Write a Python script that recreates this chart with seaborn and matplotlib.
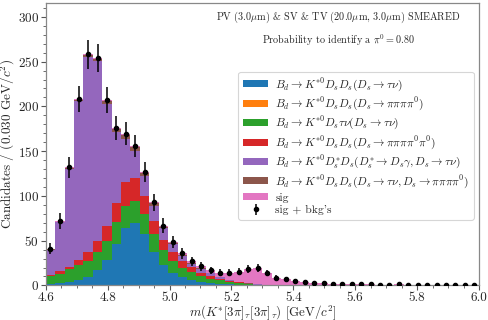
import numpy as np
import pandas as pd
import matplotlib
matplotlib.use("Agg")
import matplotlib.pyplot as plt
import seaborn as sns
from matplotlib.patches import Patch

# ---- data ----
n_bins = 46
x_range = (4.6, 6.0)
edges = np.linspace(x_range[0], x_range[1], n_bins + 1)
centers = 0.5 * (edges[:-1] + edges[1:])

bkg_dsds_taunu = [1.9, 2.6, 3.7, 5.6, 9.3, 17.5, 28, 46.6, 64.5, 69.7, 57, 37, 22.4, 13.8, 9, 6,
                  4, 2.6, 1.9, 1.1, 0.7, 0.4, 0.2, 0.1, 0.1, 0.1, 0, 0, 0, 0, 0, 0, 0, 0, 0, 0,
                  0, 0, 0, 0, 0, 0, 0, 0, 0, 0]
bkg_dsds_4pi = [0, 0, 0, 0, 0.1, 0.2, 0.2, 0.2, 0.2, 0.2, 0.2, 0.2, 0.1, 0.1, 0, 0,
                0, 0, 0, 0, 0, 0, 0, 0, 0, 0, 0, 0, 0, 0, 0, 0, 0, 0, 0, 0,
                0, 0, 0, 0, 0, 0, 0, 0, 0, 0]
bkg_dstaunu = [8.1, 10.4, 14.2, 16.8, 17.7, 19.5, 22, 24.4, 24.2, 24.3, 22.4, 20.4, 17.6, 13.2, 10.8, 9,
               6.5, 4.9, 3.7, 2.6, 1.9, 1.1, 0.6, 0.3, 0.1, 0.1, 0, 0, 0, 0, 0, 0, 0, 0, 0, 0,
               0, 0, 0, 0, 0, 0, 0, 0, 0, 0]
bkg_dsds_5pi = [2, 2.6, 3.1, 5.6, 10, 13, 16, 20.4, 27, 26, 20.1, 14.6, 11, 10, 7.2, 5.5,
                3.5, 2.5, 1.9, 1.1, 0.7, 0.4, 0.2, 0.1, 0.1, 0, 0, 0, 0, 0, 0, 0, 0, 0, 0, 0,
                0, 0, 0, 0, 0, 0, 0, 0, 0, 0]
bkg_dsstar = [28, 55, 109, 177.5, 218, 201, 137, 80, 48, 30, 23, 16, 12.6, 8.7, 6.3, 3.8,
              4.5, 3.7, 1.4, 1.1, 0.5, 0.1, 0.4, 0.1, 0.2, 0.2, 0.2, 0.2, 0.2, 0.2, 0.2, 0.2,
              0.2, 0.1, 0.1, 0.1, 0.1, 0.1, 0.1, 0.1, 0.1, 0.1, 0.1, 0.1, 0.1, 0.1]
bkg_mixed = [0.5, 0.8, 1, 1.5, 2, 2, 2.6, 3.5, 4.5, 4.5, 3.4, 3.5, 2, 1.5, 1.2, 1,
             0.8, 0.6, 0.5, 0.4, 0.3, 0.2, 0.1, 0.1, 0, 0, 0, 0, 0, 0, 0, 0, 0, 0, 0, 0,
             0, 0, 0, 0, 0, 0, 0, 0, 0, 0]
sig = [0.5, 0.6, 0.8, 1, 1, 1, 1, 1, 1, 1, 1, 1, 1.2, 1.3, 1.5, 1.5,
       2, 2.5, 4.8, 7.9, 11.2, 16.1, 17.9, 13.1, 8.2, 6.3, 5.2, 3.4, 2.7, 2.3, 1.7, 1.6,
       1.4, 1.1, 1.0, 0.8, 0.8, 1.0, 0.7, 0.5, 0.5, 0.3, 0.3, 0.2, 0.3, 0.2]

labels = [
    r"$B_d \rightarrow K^{*0} D_s D_s (D_s \rightarrow \tau\nu)$",
    r"$B_d \rightarrow K^{*0} D_s D_s (D_s \rightarrow \pi\pi\pi\pi^0)$",
    r"$B_d \rightarrow K^{*0} D_s \tau\nu (D_s \rightarrow \tau\nu)$",
    r"$B_d \rightarrow K^{*0} D_s D_s (D_s \rightarrow \pi\pi\pi\pi^0\pi^0)$",
    r"$B_d \rightarrow K^{*0} D_s^{*} D_s (D_s^{*} \rightarrow D_s\gamma, D_s \rightarrow \tau\nu)$",
    r"$B_d \rightarrow K^{*0} D_s D_s (D_s \rightarrow \tau\nu, D_s \rightarrow \pi\pi\pi\pi^0)$",
    "sig",
]
data_label = "sig + bkg's"
colors = ["#1f77b4", "#ff7f0e", "#2ca02c", "#d62728", "#9467bd", "#8c564b", "#e377c2"]
series = [bkg_dsds_taunu, bkg_dsds_4pi, bkg_dstaunu, bkg_dsds_5pi, bkg_dsstar, bkg_mixed, sig]

# ---- style ----
sns.set_style("ticks")
plt.rcParams.update({
    "font.family": "serif",
    "font.serif": ["cmr10", "DejaVu Serif"],
    "mathtext.fontset": "cm",
    "axes.formatter.use_mathtext": True,
    "axes.unicode_minus": False,
})

fig = plt.figure(figsize=(4.89, 3.2), dpi=100)
ax = fig.add_axes([0.0935, 0.108, 0.886, 0.884])

rows = []
for lab, vals in zip(labels, series):
    for c, v in zip(centers, vals):
        rows.append({"x": float(c), "w": float(v), "comp": lab})
df = pd.DataFrame(rows)

palette = dict(zip(labels, colors))
sns.histplot(data=df, x="x", weights="w", hue="comp", hue_order=labels[::-1],
             bins=n_bins, binrange=x_range, multiple="stack", element="step", fill=True,
             palette=palette, alpha=1.0, linewidth=0, legend=False, ax=ax)

total = np.sum(np.array(series), axis=0)
err = np.sqrt(total)
eb = ax.errorbar(centers, total, yerr=err, fmt="o", color="black", ms=3,
                 elinewidth=1.1, capsize=0, label=data_label, zorder=5)

ax.set_xlim(4.6, 6.0)
ax.set_ylim(0, 316)
ax.xaxis.set_major_locator(matplotlib.ticker.MultipleLocator(0.2))
ax.xaxis.set_minor_locator(matplotlib.ticker.MultipleLocator(0.05))
ax.yaxis.set_major_locator(matplotlib.ticker.MultipleLocator(50))
ax.yaxis.set_minor_locator(matplotlib.ticker.MultipleLocator(10))
ax.xaxis.set_major_formatter(matplotlib.ticker.FormatStrFormatter("%.1f"))
ax.tick_params(which="major", length=3.5, width=0.8, labelsize=9.5, color="#555555", pad=1.5)
ax.tick_params(which="minor", length=2, width=0.6, color="#555555")
for s in ax.spines.values():
    s.set_color("#888888")
    s.set_linewidth(0.9)

ax.set_xlabel(r"$m(K^{*}[3\pi]_\tau[3\pi]_\tau)$ [GeV/$c^2$]", fontsize=9.3)
ax.set_ylabel(r"Candidates / (0.030 GeV/$c^2$)", fontsize=9.5)
ax.xaxis.set_label_coords(0.5, -0.062)
ax.yaxis.set_label_coords(-0.066, 0.5)

ax.text(0.675, 0.946, r"PV (3.0$\mu$m) & SV & TV (20.0$\mu$m, 3.0$\mu$m) SMEARED",
        transform=ax.transAxes, ha="center", va="center", fontsize=7.3)
ax.text(0.675, 0.868, r"Probability to identify a $\pi^0 = 0.80$",
        transform=ax.transAxes, ha="center", va="center", fontsize=7.3)

handles = [Patch(facecolor=c, edgecolor="none") for c in colors] + [eb]
leg = ax.legend(handles, labels + [data_label], loc="upper right",
                bbox_to_anchor=(0.988, 0.755), borderaxespad=0, fontsize=8.3,
                frameon=True, fancybox=True, framealpha=0.8, edgecolor="#cccccc",
                handlelength=2.2, handleheight=0.55, labelspacing=0.2,
                handletextpad=0.6, borderpad=0.4)
leg.get_frame().set_linewidth(0.8)

fig.savefig("out.png", dpi=100)
